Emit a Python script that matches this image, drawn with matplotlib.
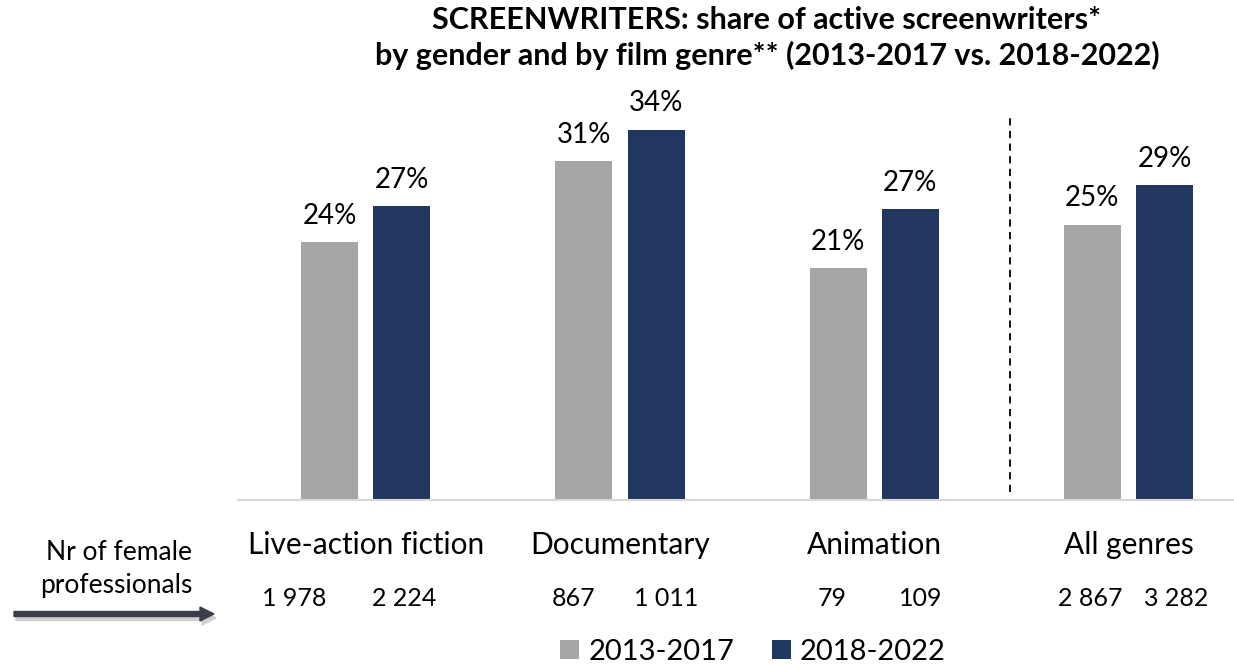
import matplotlib.pyplot as plt
from matplotlib.patches import FancyArrow
import numpy as np

plt.rcParams['font.family'] = ['Lato', 'DejaVu Sans']

genres = ['Live-action fiction', 'Documentary', 'Animation', 'All genres']
share_2013_2017 = [23.6, 31.0, 21.2, 25.2]
share_2018_2022 = [26.9, 33.9, 26.6, 28.8]
count_2013_2017 = ['1 978', '867', '79', '2 867']
count_2018_2022 = ['2 224', '1 011', '109', '3 282']
periods = ['2013-2017', '2018-2022']

# horizontal nudges (pixels) of the count labels, as in the source layout
nudge_2013_2017 = [-35, -10, -6, -2]
nudge_2018_2022 = [2, 10, 10, 12]

gray = '#A6A6A6'
navy = '#22375F'

fig = plt.figure(figsize=(12.34, 6.64), dpi=100)
ax = fig.add_axes([238 / 1234, 164 / 664, 996 / 1234, 400 / 664])

x = np.arange(len(genres))
w = 0.224
off = 0.142
b1 = ax.bar(x - off, share_2013_2017, w, color=gray, label=periods[0])
b2 = ax.bar(x + off, share_2018_2022, w, color=navy, label=periods[1])

for bars in (b1, b2):
    for rect in bars:
        h = rect.get_height()
        ax.text(rect.get_x() + rect.get_width() / 2, h + 1.2, f'{h:.0f}%',
                ha='center', va='bottom', fontsize=20)

ax.set_xlim(-0.502, 3.415)
ax.set_ylim(0, 36.6)
ax.set_yticks([])
ax.set_xticks([])
for s in ('top', 'right', 'left'):
    ax.spines[s].set_visible(False)
ax.spines['bottom'].set_color('#D9D9D9')
ax.spines['bottom'].set_linewidth(1.5)

# separator before the total
ax.plot([2.533, 2.533], [0.7, 35.4], ls=(0, (4, 3)), color='black', lw=1.3,
        clip_on=False)

# genre names and counts under the axis
for i, g in enumerate(genres):
    ax.annotate(g, (x[i], 0), xytext=(0, -45), textcoords='offset pixels',
                ha='center', va='center', fontsize=21.5)
    ax.annotate(count_2013_2017[i], (x[i] - off, 0),
                xytext=(nudge_2013_2017[i], -98), textcoords='offset pixels',
                ha='center', va='center', fontsize=18)
    ax.annotate(count_2018_2022[i], (x[i] + off, 0),
                xytext=(nudge_2018_2022[i], -98), textcoords='offset pixels',
                ha='center', va='center', fontsize=18)

fig.text(192 / 1234, 1 - 552 / 664, 'Nr of female', ha='right', va='center', fontsize=19)
fig.text(192 / 1234, 1 - 585 / 664, 'professionals', ha='right', va='center', fontsize=19)
fig.patches.append(FancyArrow(
    16 / 1234, 1 - 618 / 664, 200 / 1234, 0, width=5 / 664,
    head_width=14 / 664, head_length=14 / 1234, length_includes_head=True,
    color='#CFCFCF', transform=fig.transFigure))
fig.patches.append(FancyArrow(
    14 / 1234, 1 - 614 / 664, 200 / 1234, 0, width=5 / 664,
    head_width=14 / 664, head_length=14 / 1234, length_includes_head=True,
    color='#3A3E48', transform=fig.transFigure))

fig.text(767 / 1234, 1 - 6 / 664,
         'SCREENWRITERS: share of active screenwriters*\n'
         'by gender and by film genre** (2013-2017 vs. 2018-2022)',
         ha='center', va='top', fontsize=22, fontweight='bold', linespacing=1.3)

fig.legend(handles=[b1, b2], labels=periods, loc='center',
           bbox_to_anchor=(753 / 1234, 1 - 652 / 664), ncol=2, frameon=False,
           fontsize=21, handlelength=0.65, handleheight=0.65, handletextpad=0.3,
           columnspacing=1.3, borderpad=0)

fig.savefig('out.png', dpi=100)
